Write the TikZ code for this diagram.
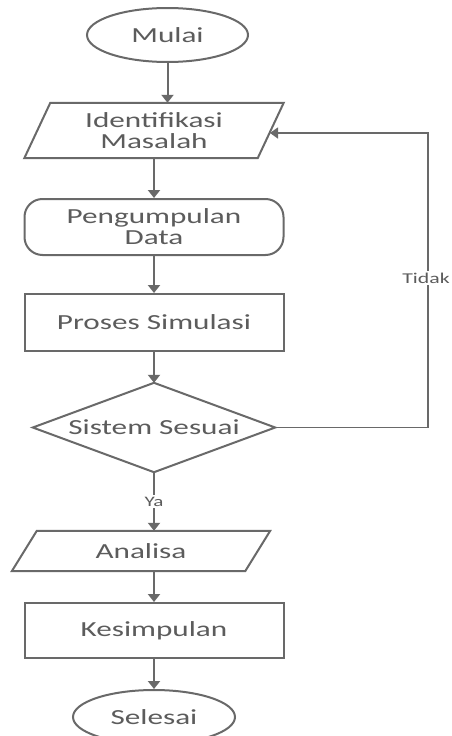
\documentclass[tikz,border=0pt]{standalone}
\usepackage{fontspec}
\setmainfont{Carlito}[FakeStretch=1.45]
\usetikzlibrary{arrows.meta,calc,shapes.geometric}
\definecolor{ln}{RGB}{105,105,105}
\definecolor{tx}{RGB}{92,92,92}
\begin{document}
\begin{tikzpicture}[x=1pt,y=-1pt,
  lbl/.style={text=tx,font=\fontsize{21.5}{21}\selectfont,align=center,inner sep=0pt},
  shp/.style={draw=ln,line width=2pt,line join=miter},
  box/.style={shp,lbl,rectangle,minimum width=259pt,minimum height=56pt},
  term/.style={shp,lbl,ellipse,minimum width=161pt,minimum height=54pt},
  small/.style={text=tx,font=\fontsize{15}{16}\selectfont,inner sep=1.5pt,fill=white},
  arr/.style={draw=ln,line width=2pt,-{Triangle[width=12pt,length=8pt]}},
  back/.style={draw=ln,line width=1.4pt,-{Triangle[width=11pt,length=8pt]}}]
\useasboundingbox (0,0) rectangle (451,736);
\fill[white] (0,0) rectangle (451,736);

\node[term] (mulai) at (167.5,35) {Mulai};

\node[lbl,minimum width=233pt,minimum height=55pt] (idm) at (154,130.5) {Identifikasi\\Masalah};
\draw[shp] ($(idm.north west)+(13,0)$) -- ($(idm.north east)+(13,0)$) -- ($(idm.south east)+(-13,0)$) -- ($(idm.south west)+(-13,0)$) -- cycle;

\node[box,rounded corners=18pt] (peng) at (154,227) {Pengumpulan\\Data};
\node[box,minimum height=57pt] (pros) at (154,322.5) {Proses Simulasi};

\node[lbl,minimum width=242pt,minimum height=89pt] (dia) at (154,427.5) {Sistem Sesuai};
\draw[shp] (dia.north) -- (dia.east) -- (dia.south) -- (dia.west) -- cycle;

\node[lbl,minimum width=233pt,minimum height=40pt] (ana) at (141,551) {Analisa};
\draw[shp] ($(ana.north west)+(12.5,0)$) -- ($(ana.north east)+(12.5,0)$) -- ($(ana.south east)+(-12.5,0)$) -- ($(ana.south west)+(-12.5,0)$) -- cycle;

\node[box,minimum height=55pt] (kes) at (154,630.5) {Kesimpulan};
\node[term,minimum width=162pt] (sel) at (154,717) {Selesai};

\draw[arr] (mulai.south) -- (mulai.south |- idm.north);
\draw[arr] (idm.south) -- (peng.north);
\draw[arr] (peng) -- (pros);
\draw[arr] (pros) -- (dia.north);
\draw[arr] (dia.south) -- node[small,font=\fontsize{14.5}{15}\selectfont] (ya) {Ya} (dia.south |- ana.north);
\draw[arr] (kes.north |- ana.south) -- (kes.north);
\draw[arr] (kes) -- (sel);

\coordinate (tk) at (428,133);
\coordinate (idin) at (270,133);
\draw[back] (dia.east) -| (tk) -- (idin);
\node[small] (tidak) at (426,278) {Tidak};
\end{tikzpicture}
\end{document}
